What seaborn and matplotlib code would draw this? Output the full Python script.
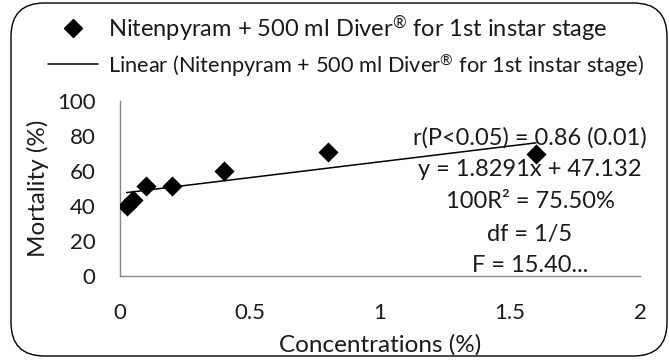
import matplotlib
matplotlib.use("Agg")
import matplotlib.pyplot as plt
from matplotlib.lines import Line2D
from matplotlib.patches import FancyBboxPatch
import seaborn as sns
import pandas as pd

# Concentrations (%) and observed mortality (%)
concentrations = [0.025, 0.05, 0.1, 0.2, 0.4, 0.8, 1.6]
mortality = [40.0, 43.3, 51.7, 51.7, 60.0, 71.0, 70.0]

series_label = "Nitenpyram + 500 ml Diver$^{\u00ae}$ for 1st instar stage"
trend_label = "Linear (Nitenpyram + 500 ml Diver$^{\u00ae}$ for 1st instar stage)"
stats_lines = [
    "r(P<0.05) = 0.86 (0.01)",
    "y = 1.8291x + 47.132",
    "100R\u00b2 = 75.50%",
    "df = 1/5",
    "F = 15.40...",
]
x_ticks = [0, 0.5, 1, 1.5, 2]
x_ticklabels = ["0", "0.5", "1", "1.5", "2"]
y_ticks = [0, 20, 40, 60, 80, 100]

df = pd.DataFrame({"conc": concentrations, "mort": mortality})

sns.set_theme(style="white")
plt.rcParams["font.family"] = ["Lato", "DejaVu Sans"]
plt.rcParams["mathtext.fontset"] = "custom"
plt.rcParams["mathtext.rm"] = "Lato"
plt.rcParams["mathtext.default"] = "regular"
FS_TICK = 16
FS_LABEL = 17.5
FS_STATS = 17
GREY = "#868686"
INK = "#1a1a1a"

W, H = 669, 362
fig = plt.figure(figsize=(W / 100, H / 100), dpi=100)

# rounded chart-area frame
frame = FancyBboxPatch((11 / W, 6 / H), 656 / W, 353 / H,
                       boxstyle="round,pad=0,rounding_size=0.05",
                       transform=fig.transFigure, facecolor="white",
                       edgecolor="black", linewidth=1.0, zorder=-5,
                       mutation_aspect=W / H)
fig.patches.append(frame)

ax = fig.add_axes([120 / W, 1 - 276 / H, 520 / W, 175 / H])
ax.set_zorder(2)
ax.set_facecolor("none")

sns.regplot(data=df, x="conc", y="mort", ax=ax, scatter=False, ci=None,
            truncate=True, line_kws=dict(color="black", lw=1.1, zorder=2))
sns.scatterplot(data=df, x="conc", y="mort", ax=ax, marker="D", s=105,
                color="black", edgecolor="black", linewidth=0, zorder=3,
                legend=False)

ax.set_xlim(0, 2)
ax.set_ylim(0, 100)
ax.set_xticks(x_ticks)
ax.set_xticklabels(x_ticklabels)
ax.set_yticks(y_ticks)
ax.tick_params(axis="both", direction="out", length=6.5, width=1, color=GREY,
               labelsize=FS_TICK, labelcolor=INK)
ax.tick_params(axis="y", pad=11)
ax.tick_params(axis="x", pad=13)
for side in ("top", "right"):
    ax.spines[side].set_visible(False)
for side in ("left", "bottom"):
    ax.spines[side].set_color(GREY)
    ax.spines[side].set_linewidth(1)

ax.set_xlabel("Concentrations (%)", fontsize=FS_LABEL, color=INK, labelpad=8)
ax.set_ylabel("Mortality (%)", fontsize=FS_LABEL, color=INK, labelpad=6)

# regression statistics block
for i, line in enumerate(stats_lines):
    fig.text(530 / W, 1 - (138 + 32 * i) / H, line, ha="center", va="center",
             fontsize=FS_STATS, color=INK, zorder=5)

handles = [
    Line2D([], [], marker="D", color="black", linestyle="none", markersize=9),
    Line2D([], [], color="black", lw=1.1),
]
leg = fig.legend(handles, [series_label, trend_label], loc="upper left",
                 bbox_to_anchor=(48 / W, 1 - 13 / H), frameon=False,
                 fontsize=17.0, handlelength=2.12, handletextpad=0.42,
                 labelspacing=0.35, borderpad=0, borderaxespad=0,
                 labelcolor=INK)
leg.get_texts()[1].set_fontsize(15.7)

fig.savefig("out.png", dpi=100)
